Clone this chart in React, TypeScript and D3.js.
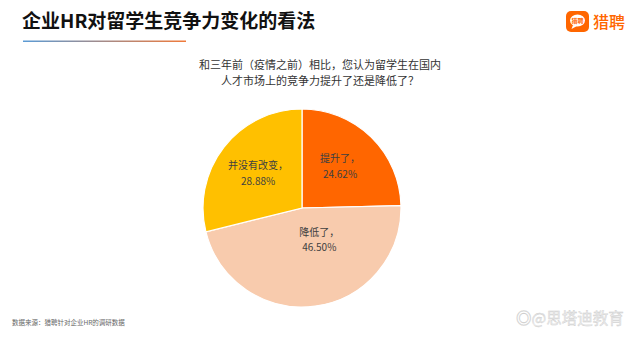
import React from "react";
import * as d3 from "d3";

const categories = ["提升了", "降低了", "并没有改变"];
const values = [24.62, 46.5, 28.88];
const colors = ["#FF6600", "#F8CBAD", "#FFC000"];
const questionLines = [
  "和三年前（疫情之前）相比，您认为留学生在国内",
  "人才市场上的竞争力提升了还是降低了？",
];
// label nudges relative to slice centroid (style only)
const labelNudge: [number, number][] = [
  [0, -3],
  [10, -22],
  [-1, -1],
];

const W = 640;
const H = 360;
const cx = 302;
const cy = 208;
const R = 99;

export default function App() {
  const pie = d3.pie<number>().sort(null).value((d) => d);
  const arcs = pie(values);
  const arcGen = d3.arc<d3.PieArcDatum<number>>().innerRadius(0).outerRadius(R);
  const labelArc = d3.arc<d3.PieArcDatum<number>>().innerRadius(R * 0.55).outerRadius(R * 0.55);
  const font = "'Noto Sans CJK SC', 'Noto Sans', sans-serif";
  return (
    <svg width={W} height={H} style={{ position: "absolute", left: 0, top: 0, background: "#fff" }} fontFamily={font}>
      <defs>
        <linearGradient id="ul" x1="0" x2="1" y1="0" y2="0">
          <stop offset="0%" stopColor="#5B9BD5" />
          <stop offset="100%" stopColor="#F07A3A" />
        </linearGradient>
      </defs>
      <rect width={W} height={H} fill="#fff" />
      <text x={22} y={28} fontSize={19} fontWeight={700} fill="#111">企业HR对留学生竞争力变化的看法</text>
      <rect x={23} y={40.5} width={163} height={1.5} fill="url(#ul)" />
      {/* logo */}
      <rect x={566} y={11} width={23} height={21} rx={5} fill="#FF6600" />
      <ellipse cx={577.5} cy={20.5} rx={7.5} ry={6} fill="#fff" />
      <path d="M573,25 L571.5,29 L577,26 Z" fill="#fff" />
      <text x={577.5} y={23} fontSize={6} fill="#FF6600" textAnchor="middle" fontWeight={700}>猎聘</text>
      <text x={593} y={28} fontSize={16} fill="#FF6600" fontWeight={500}>猎聘</text>
      {questionLines.map((t, i) => (
        <text key={i} x={320} y={69 + i * 16} fontSize={11} fill="#333" textAnchor="middle">{t}</text>
      ))}
      <g transform={`translate(${cx},${cy})`}>
        {arcs.map((a, i) => (
          <path key={i} d={arcGen(a) || ""} fill={colors[i]} stroke="#fff" strokeWidth={1.2} />
        ))}
        {arcs.map((a, i) => {
          const [lx0, ly0] = labelArc.centroid(a);
          const lx = lx0 + labelNudge[i][0];
          const ly = ly0 + labelNudge[i][1];
          return (
            <text key={"l" + i} fontSize={10} fill="#404040" textAnchor="middle">
              <tspan x={lx} y={ly - 4}>{categories[i]}，</tspan>
              <tspan x={lx} y={ly + 11.5}>{values[i].toFixed(2)}%</tspan>
            </text>
          );
        })}
      </g>
      <text x={12} y={325} fontSize={6.5} fill="#666">数据来源：猎聘针对企业HR的调研数据</text>
      <text x={516} y={324} fontSize={15.5} fill="#ececec" stroke="#cccccc" strokeWidth={0.35}>◎@思塔迪教育</text>
    </svg>
  );
}
